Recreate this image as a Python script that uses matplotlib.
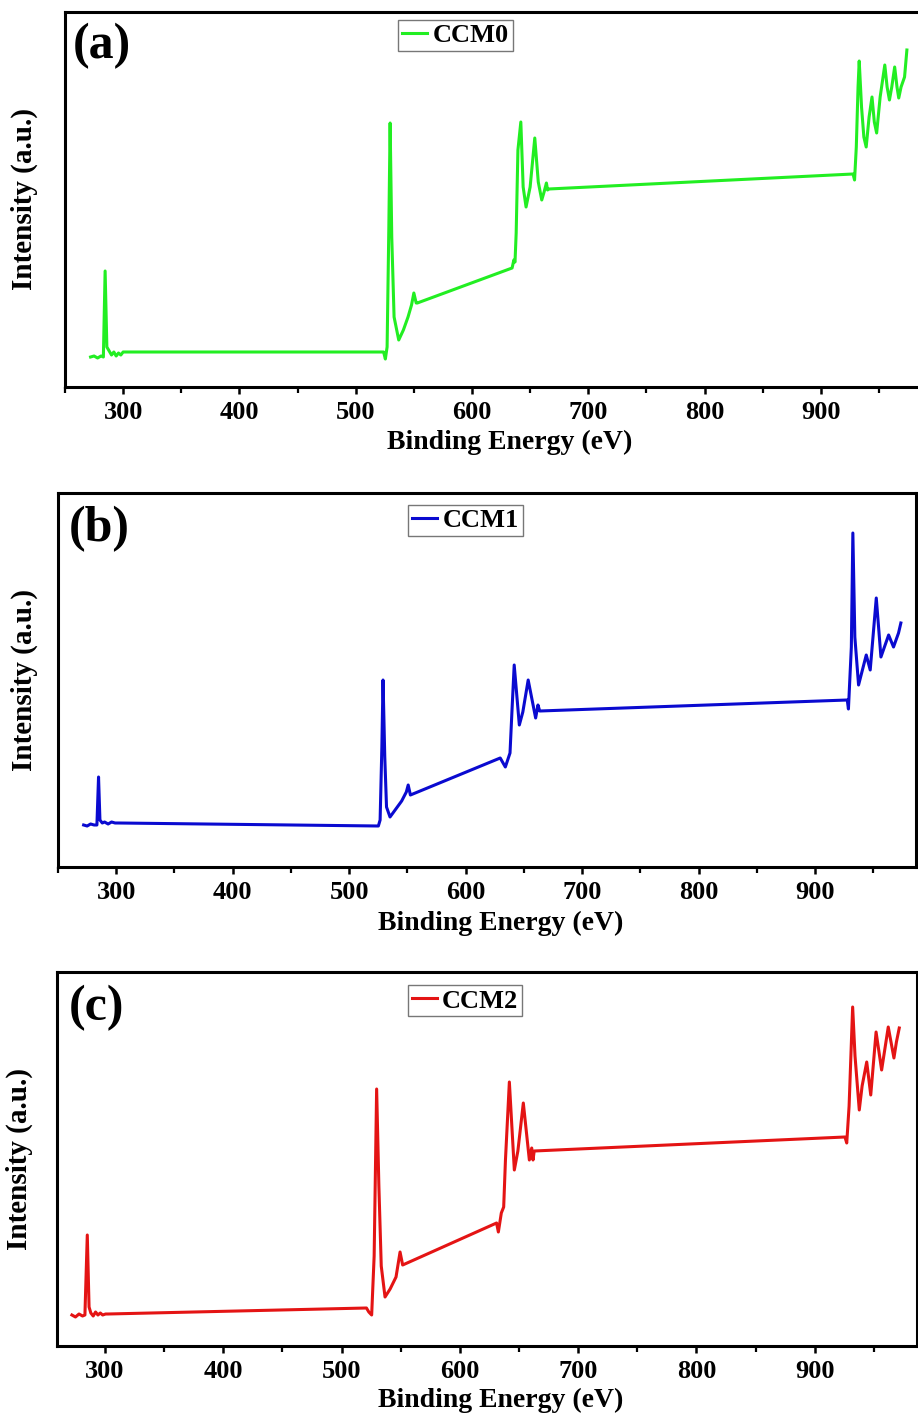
import matplotlib
matplotlib.use("Agg")
import matplotlib.pyplot as plt
from matplotlib.ticker import MultipleLocator

plt.rcParams['font.family'] = ['Liberation Serif', 'DejaVu Serif']
plt.rcParams['font.weight'] = 'bold'

# XPS survey spectra (arbitrary intensity units)
energy_ccm0 = [272, 275, 278, 281, 283, 284.5, 286, 288, 290, 292, 294, 296, 298, 300, 302,
               524, 525.5, 527, 528.5, 529.6, 531, 533, 537, 541, 545, 548, 550, 552, 553,
               634.5, 636, 637, 638, 639.5, 642, 644, 646.5, 650, 654, 657, 660, 662, 664, 665, 666,
               927.7, 929, 930.5, 932, 933, 935, 937, 939, 941.5, 944, 946, 948, 951, 955, 957,
               959, 961, 963.5, 965.5, 967, 969, 972, 974]
intensity_ccm0 = [30, 31, 29, 31, 30, 116, 40, 36, 32, 35, 31, 34, 32, 35, 35,
                  35, 28, 40, 160, 264, 150, 70, 47, 57, 70, 82, 94, 84, 84,
                  119, 127, 125, 154, 237, 265, 200, 180, 200, 249, 205, 187, 195, 204, 197, 198,
                  213, 207, 240, 300, 326, 280, 250, 240, 270, 290, 265, 254, 290, 322, 300,
                  287, 300, 320, 300, 289, 300, 310, 337]

energy_ccm1 = [272, 275, 278, 281, 283.4, 284.8, 286, 288, 290, 293, 296, 299, 302,
               525, 526.5, 528, 529, 530.5, 532, 535, 540, 545, 549, 550.6, 552.5,
               629.6, 634, 638, 639.6, 641.6, 646, 649, 653.6, 660, 662, 663.5,
               927.5, 928.5, 931, 932.3, 934, 937.2, 943.8, 947.2, 952.4, 956.4, 963, 967.2,
               971.5, 973.5]
intensity_ccm1 = [42, 41, 43, 42, 42, 90, 47, 44, 45, 43, 45, 44, 44,
                  41, 47, 120, 187, 110, 60, 50, 58, 66, 75, 82, 72,
                  109, 100, 114, 154, 202, 142, 155, 187, 149, 162, 156,
                  167, 158, 220, 334, 230, 182, 212, 197, 269, 210, 232, 220,
                  234, 244]

energy_ccm2 = [272, 275, 278, 281, 283, 285, 286.5, 288, 290, 292, 294, 296, 298, 300.5, 302.5,
               521, 523, 525.4, 527.5, 529.6, 531.5, 533.5, 536.7, 541, 546, 549.4, 551.6,
               631, 632.5, 635, 637, 638.5, 641.8, 646, 649, 653.6, 658.7, 660.7, 661.8, 662.8,
               925.5, 927, 929, 932, 934, 937.6, 940, 943.9, 947.3, 951.8, 956.5, 962.1,
               966.9, 969, 971.4]
intensity_ccm2 = [31, 29, 32, 30, 31, 111, 39, 33, 30, 34, 31, 33, 31, 32, 32,
                  38, 34, 31, 90, 257, 160, 80, 49, 57, 69, 94, 81,
                  123, 114, 133, 139, 186, 264, 176, 195, 243, 186, 198, 186, 195,
                  209, 203, 240, 339, 290, 236, 260, 284, 251, 314, 276, 319,
                  288, 304, 318]

panels = [
    dict(tag='(a)', name='CCM0', x=energy_ccm0, y=intensity_ccm0, color='#22ee22',
         rect=[65, 12, 857, 375], xlim=(250, 987), ylim=(0, 375),
         leg=(0.389, 0.979), ylab=-0.0315, xlab=(0.519, -0.113), tagpos=(0.009, 0.909)),
    dict(tag='(b)', name='CCM1', x=energy_ccm1, y=intensity_ccm1, color='#0a0ad0',
         rect=[58, 493, 858, 374], xlim=(250, 986.5), ylim=(0, 374),
         leg=(0.408, 0.968), ylab=-0.023, xlab=(0.516, -0.116), tagpos=(0.012, 0.904)),
    dict(tag='(c)', name='CCM2', x=energy_ccm2, y=intensity_ccm2, color='#e41414',
         rect=[57, 972, 860, 374], xlim=(259.4, 986.4), ylim=(0, 374),
         leg=(0.408, 0.965), ylab=-0.028, xlab=(0.516, -0.113), tagpos=(0.014, 0.904)),
]

W, H = 918, 1421
fig = plt.figure(figsize=(W / 100, H / 100), dpi=100)

for p in panels:
    left, top, w, h = p['rect']
    ax = fig.add_axes([left / W, 1 - (top + h) / H, w / W, h / H])
    ax.plot(p['x'], p['y'], color=p['color'], lw=2.2, label=p['name'])
    ax.set_xlim(*p['xlim'])
    ax.set_ylim(*p['ylim'])

    for s in ax.spines.values():
        s.set_linewidth(2.2)
    ax.xaxis.set_major_locator(MultipleLocator(100))
    ax.xaxis.set_minor_locator(MultipleLocator(50))
    ax.tick_params(axis='x', which='major', direction='out', length=5, width=1.8,
                   labelsize=19, pad=5, top=False)
    ax.tick_params(axis='x', which='minor', direction='out', length=4, width=1.6, top=False)
    ax.set_yticks([])

    ax.set_xlabel('Binding Energy (eV)', fontsize=20, fontweight='bold')
    ax.xaxis.set_label_coords(*p['xlab'])
    ax.set_ylabel('Intensity (a.u.)', fontsize=21, fontweight='bold')
    ax.yaxis.set_label_coords(p['ylab'], 0.5)

    ax.text(p['tagpos'][0], p['tagpos'][1], p['tag'], transform=ax.transAxes,
            fontsize=36, fontweight='bold', ha='left', va='center')

    leg = ax.legend(loc='upper left', bbox_to_anchor=p['leg'], fontsize=19,
                    frameon=True, fancybox=False, framealpha=1, edgecolor='#777777',
                    handlelength=0.95, handletextpad=0.2, borderpad=0.15,
                    borderaxespad=0)
    leg.get_frame().set_linewidth(1.0)

fig.savefig('out.png', dpi=100)
